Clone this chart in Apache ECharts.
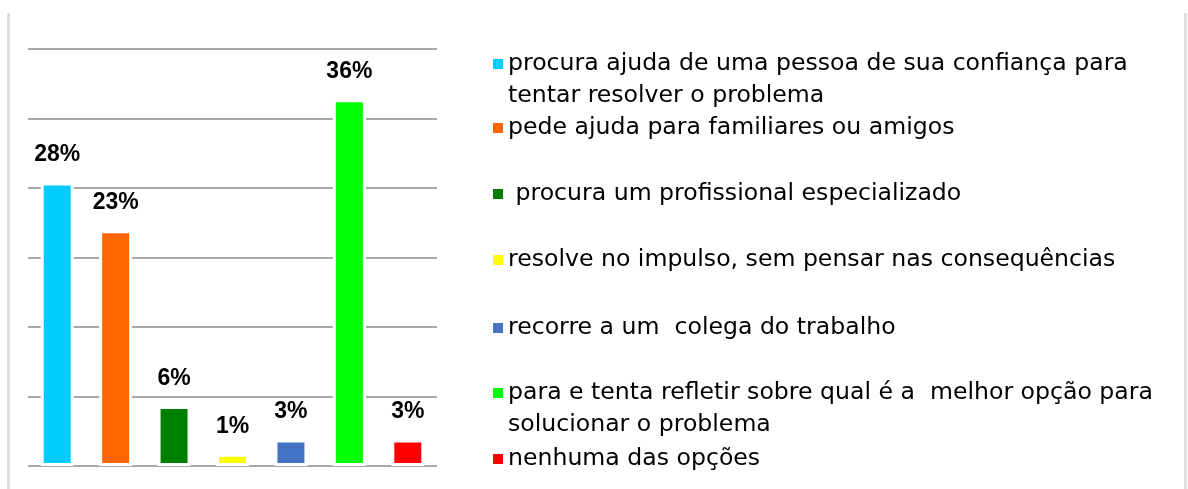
<!DOCTYPE html>
<html>
<head>
<meta charset="utf-8">
<script src="https://cdn.jsdelivr.net/npm/echarts@6/dist/echarts.min.js"></script>
<style>
  html, body { margin: 0; padding: 0; background: #fff; }
  #chart { width: 1188px; height: 489px; }
</style>
</head>
<body>
<div id="chart"></div>
<script>
// categorias (texto da legenda)
var categorias = [
  'procura ajuda de uma pessoa de sua confiança para\ntentar resolver o problema',
  'pede ajuda para familiares ou amigos',
  ' procura um profissional especializado',
  'resolve no impulso, sem pensar nas consequências',
  'recorre a um  colega do trabalho',
  'para e tenta refletir sobre qual é a  melhor opção para\nsolucionar o problema',
  'nenhuma das opções'
]
var valores = [27.9, 23.2, 5.9, 1.2, 2.6, 36.1, 2.6]
var cores = ['#00CCFF', '#FF6600', '#008000', '#FFFF00', '#4472C4', '#00FF00', '#FF0000']

// posicao vertical de cada item da legenda (layout)
var legendaTopo = [16, 112, 178, 244, 312, 345, 443]

var myChart = echarts.init(document.getElementById('chart'))

var series = categorias.map(function (nome, i) {
  return {
    name: nome,
    type: 'bar',
    stack: 'total',
    barWidth: 33,
    data: categorias.map(function (c, j) { return j === i ? valores[i] : '-' }),
    itemStyle: {
      color: cores[i],
      borderColor: '#fff',
      borderWidth: 3
    },
    label: {
      show: true,
      position: 'top',
      distance: 16,
      formatter: function (p) { return Math.round(p.value) + '%' },
      fontFamily: 'Liberation Sans',
      fontWeight: 'bold',
      fontSize: 23,
      color: '#000'
    }
  }
})

// itens de duas linhas: linha vazia antes para alinhar o icone com a 1a linha
var legendas = categorias.map(function (nome, i) {
  return {
    orient: 'vertical',
    left: 493,
    top: legendaTopo[i],
    padding: 0,
    itemWidth: 10,
    itemHeight: 10,
    icon: 'rect',
    selectedMode: false,
    data: [nome],
    itemStyle: { color: cores[i], borderWidth: 0, borderColor: 'transparent' },
    formatter: function (n) { return n.indexOf('\n') >= 0 ? '\n' + n : n },
    textStyle: {
      fontFamily: 'DejaVu Sans',
      fontSize: 23.6,
      lineHeight: 32,
      color: '#000'
    }
  }
})

myChart.setOption({
  animation: false,
  grid: {
    left: 28,
    right: 751,
    top: 49,
    bottom: 23,
    containLabel: false,
    outerBoundsMode: 'none'
  },
  legend: legendas,
  xAxis: {
    type: 'category',
    data: categorias,
    axisLine: { show: false },
    axisTick: { show: false },
    axisLabel: { show: false },
    splitLine: { show: false }
  },
  yAxis: {
    type: 'value',
    min: 0,
    max: 41.04,
    interval: 6.84,
    axisLine: { show: false },
    axisTick: { show: false },
    axisLabel: { show: false },
    splitLine: { show: true, lineStyle: { color: '#a8a8a8', width: 2 } }
  },
  graphic: [
    { type: 'rect', left: 7, top: 13, shape: { width: 3, height: 476 }, style: { fill: '#dedede' } },
    { type: 'rect', left: 1184, top: 13, shape: { width: 3, height: 476 }, style: { fill: '#dedede' } }
  ],
  series: series
})
</script>
</body>
</html>
